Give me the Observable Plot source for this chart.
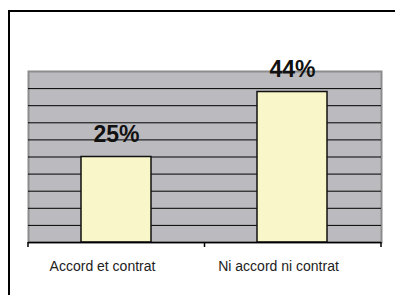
<!DOCTYPE html>
<html>
<head>
<meta charset="utf-8">
<script src="https://cdn.jsdelivr.net/npm/d3@7"></script>
<script src="https://cdn.jsdelivr.net/npm/@observablehq/plot@0.6"></script>
<style>
  html, body { margin: 0; padding: 0; background: #fff; }
  #wrap { position: relative; width: 395px; height: 295px; overflow: hidden; background: #fff; }
  #border { position: absolute; left: 8px; top: 10px; width: 420px; height: 320px;
            border-top: 2px solid #000; border-left: 2px solid #000; box-sizing: border-box; }
  #chart { position: absolute; left: 0; top: 0; }
</style>
</head>
<body>
<div id="wrap">
  <div id="border"></div>
  <div id="chart"></div>
</div>
<script>
const categories = ["Accord et contrat", "Ni accord ni contrat"];
const values = [25, 44];
const valueLabels = ["25%", "44%"];
const gridTicks = [5, 10, 15, 20, 25, 30, 35, 40, 45];
const yDomain = [0, 50];

const data = categories.map((c, i) => ({cat: c, value: values[i], label: valueLabels[i]}));

const chart = Plot.plot({
  width: 395,
  height: 295,
  marginLeft: 28,
  marginRight: 14,
  marginTop: 71,
  marginBottom: 53,
  style: {background: "transparent", fontFamily: "'Liberation Sans', Arial, sans-serif"},
  x: {domain: categories, paddingInner: 0.6, paddingOuter: 0.3, axis: null},
  y: {domain: yDomain, axis: null},
  marks: [
    Plot.frame({fill: "#bbbbbf", stroke: "#8c8c8c", strokeWidth: 2}),
    Plot.ruleY(gridTicks, {stroke: "#000", strokeWidth: 1}),
    Plot.barY(data, {x: "cat", y: "value", fill: "#f9f7c9", stroke: "#111", strokeWidth: 1.5}),
    Plot.ruleY([0], {stroke: "#000", strokeWidth: 1.5}),
    Plot.text(data, {x: "cat", y: "value", text: "label", dy: -15, lineAnchor: "bottom",
      fontSize: 23, fontWeight: "bold", fill: "#111"}),
    Plot.text(categories, {x: d => d, frameAnchor: "bottom", dy: 24, dx: -14, lineAnchor: "middle",
      fontSize: 14, fill: "#222", letterSpacing: "-0.5px"})
  ]
});

document.getElementById("chart").appendChild(chart);

// tick marks at category boundaries on the x axis
const xs = chart.scale("x");
const ys = chart.scale("y");
const [r0, r1] = xs.range;
const boundaries = [r0, (r0 + r1) / 2, r1];
const y0 = ys.apply(0);
d3.select(chart).append("g")
  .selectAll("line")
  .data(boundaries)
  .join("line")
  .attr("x1", d => d).attr("x2", d => d)
  .attr("y1", y0).attr("y2", y0 + 5)
  .attr("stroke", "#000").attr("stroke-width", 1.5);
</script>
</body>
</html>
